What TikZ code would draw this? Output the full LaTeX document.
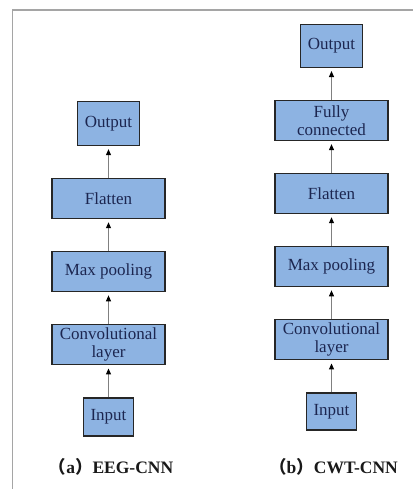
\documentclass[tikz,border=0pt]{standalone}
\usepackage{fontspec}
\setmainfont{Liberation Serif}
\newfontfamily\cjk{Noto Sans CJK SC}
\usetikzlibrary{arrows.meta,chains,positioning}
\definecolor{boxblue}{RGB}{141,179,226}
\definecolor{txtblue}{RGB}{28,38,80}
\definecolor{linegray}{RGB}{128,128,128}
\definecolor{framegray}{RGB}{165,165,165}

\begin{document}
\begin{tikzpicture}[x=1pt, y=1pt,
node distance=32pt,
    X/.style = {rectangle, draw=black!85, fill=boxblue, text=txtblue,% layer boxes
                minimum width=113pt, minimum height=40pt, align=center,
                font=\fontsize{17}{18}\selectfont, inner sep=1pt,
                line width=1.1pt, on chain},
    Y/.style = {X, minimum width=0pt, inner xsep=7pt},% input / output boxes
 conn/.style = {draw=linegray, line width=1pt, shorten >=3pt,
                -{Triangle[length=6pt,width=5pt,color=black]}},
  subcap/.style = {font=\fontsize{17.5}{18}\selectfont\bfseries, text=black!90},
                        ]
\useasboundingbox (0,0) rectangle (413,489);
\draw[framegray, line width=1.5pt] (12.3,0) |- (413,479);
% (a) EEG-CNN
\begin{scope}[start chain = A going above]
\node[Y, minimum height=38pt] at (108.5,72) {Input};
\foreach \i in {Convolutional\\layer, Max pooling, Flatten}% <-- hidden layers
    \node[X] {\i};
\node[Y, minimum height=44pt] {Output};
\end{scope}
\foreach \j [count=\k from 2] in {1,...,4}
    \draw[conn] (A-\j) -- (A-\k);
\node[subcap] (capA) at (111,22) {{\cjk （}a{\cjk ）}EEG-CNN};
% (b) CWT-CNN
\begin{scope}[start chain = B going above]
\node[Y, minimum height=37pt] at (331.5,77.5) {Input};
\foreach \i in {Convolutional\\layer, Max pooling, Flatten, Fully\\connected}% <-- hidden layers
    \node[X] {\i};
\node[Y, minimum height=43pt] {Output};
\end{scope}
\foreach \j [count=\k from 2] in {1,...,5}
    \draw[conn] (B-\j) -- (B-\k);
\node[subcap] (capB) at (333.5,22) {{\cjk （}b{\cjk ）}CWT-CNN};
\end{tikzpicture}
\end{document}
